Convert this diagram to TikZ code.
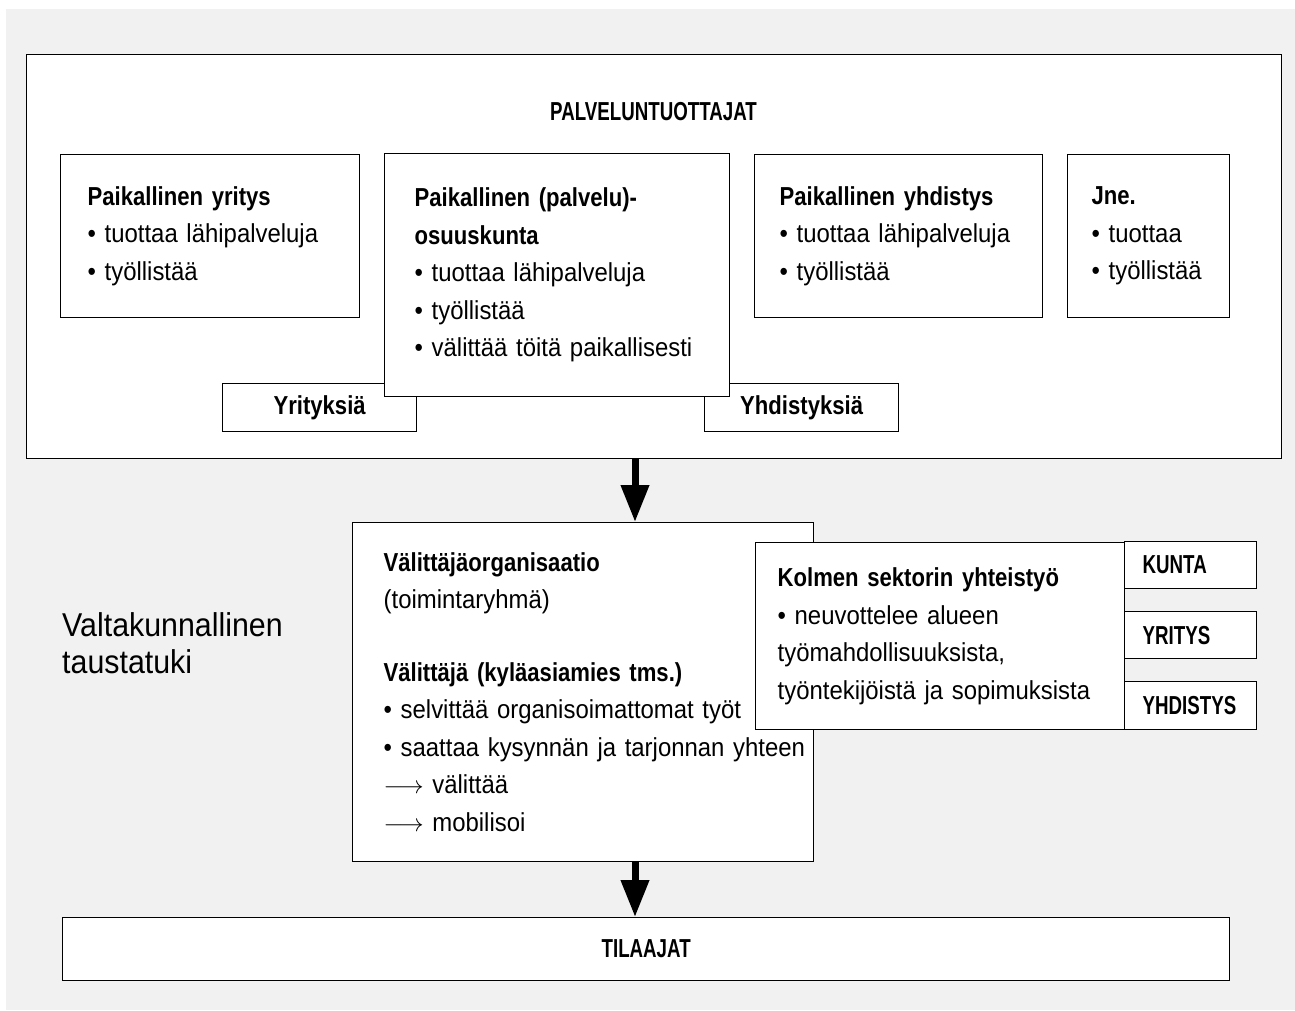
\documentclass[tikz,border=0pt]{standalone}
\usepackage{fontspec}
\setmainfont{Liberation Sans}[UprightFeatures={FakeStretch=0.92},BoldFeatures={FakeStretch=0.85}]
\newfontfamily\capsfont{Liberation Sans}[FakeStretch=0.72]
\usepackage{tikz}
\usetikzlibrary{arrows.meta}
\definecolor{bggray}{RGB}{241,241,241}

\begin{document}
\begin{tikzpicture}[x=1pt,y=-1pt,
  box/.style={draw,line width=1.3pt,fill=white,anchor=north west,align=left,font=\fontsize{26}{37.5}\selectfont},
  tag/.style={draw,line width=1.3pt,fill=white,anchor=north west,font=\bfseries\fontsize{26}{37.5}\selectfont},
  capstag/.style={draw,line width=1.3pt,fill=white,anchor=north west,align=left,font=\capsfont\bfseries\fontsize{26}{37.5}\selectfont},
  bigarrow/.style={line width=7pt,-{Triangle[length=37pt,width=27pt]}}]
\useasboundingbox (0,0) rectangle (1295,1010);
\fill[bggray] (6,9) rectangle (1295,1010);
\node [box,minimum width=1255pt,minimum height=404pt,inner sep=0pt] (tuottajat) at (26,54) {};
\node [font=\capsfont\bfseries\fontsize{26}{37.5}\selectfont] (otsikko) at (653.5,112) {PALVELUNTUOTTAJAT};
\node [box,inner xsep=27pt,text width=245pt,minimum height=163pt] (yritys) at (60,154)
  {\textbf{Paikallinen yritys}\\ • tuottaa lähipalveluja\\ • työllistää};
\node [tag,minimum width=194pt,minimum height=48pt] (yrityksia) at (222,383) {Yrityksiä};
\node [tag,minimum width=194pt,minimum height=48pt] (yhdistyksia) at (704,383) {Yhdistyksiä};
\node [box,inner xsep=30pt,text width=285pt,minimum height=243pt] (osuuskunta) at (384,153)
  {\textbf{Paikallinen (palvelu)-}\\ \textbf{osuuskunta}\\ • tuottaa lähipalveluja\\ • työllistää\\ • välittää töitä paikallisesti};
\node [box,inner xsep=25pt,text width=238pt,minimum height=163pt] (yhdistys) at (754,154)
  {\textbf{Paikallinen yhdistys}\\ • tuottaa lähipalveluja\\ • työllistää};
\node [box,inner xsep=24pt,text width=114pt,minimum height=163pt] (jne) at (1067,154)
  {\textbf{Jne.}\\ • tuottaa\\ • työllistää};
\coordinate (a1) at (635,458);
\node [box,inner xsep=31pt,text width=399pt,minimum height=339pt] (valittaja) at (352,522)
  {\textbf{Välittäjäorganisaatio}\\ (toimintaryhmä)\\[35pt]
   \textbf{Välittäjä (kyläasiamies tms.)}\\ • selvittää organisoimattomat työt\\
   \mbox{• saattaa kysynnän ja tarjonnan yhteen}\\ $\longrightarrow$ välittää\\ $\longrightarrow$ mobilisoi};
\draw [bigarrow] (a1) -- (a1 |- valittaja.north);
\node [box,inner xsep=22pt,text width=325pt,minimum height=187pt] (kolmen) at (755,542)
  {\textbf{Kolmen sektorin yhteistyö}\\ • neuvottelee alueen\\ työmahdollisuuksista,\\ työntekijöistä ja sopimuksista};
\node [capstag,inner xsep=18pt,text width=96pt,minimum height=47pt] (kunta) at (1124,541) {KUNTA};
\node [capstag,inner xsep=18pt,text width=96pt,minimum height=47pt] (yritys2) at (1124,611) {YRITYS};
\node [capstag,inner xsep=18pt,text width=96pt,minimum height=48pt] (yhdistys2) at (1124,681) {YHDISTYS};
\node [capstag,align=center,minimum width=1167pt,minimum height=63pt] (tilaajat) at (62,917) {TILAAJAT};
\draw [bigarrow] (valittaja.south -| a1) -- (tilaajat.north -| a1);
\node [anchor=west,inner sep=0pt,align=left,font=\fontsize{33}{37}\selectfont] (tausta) at (62,643)
  {Valtakunnallinen\\ taustatuki};
\end{tikzpicture}
\end{document}
